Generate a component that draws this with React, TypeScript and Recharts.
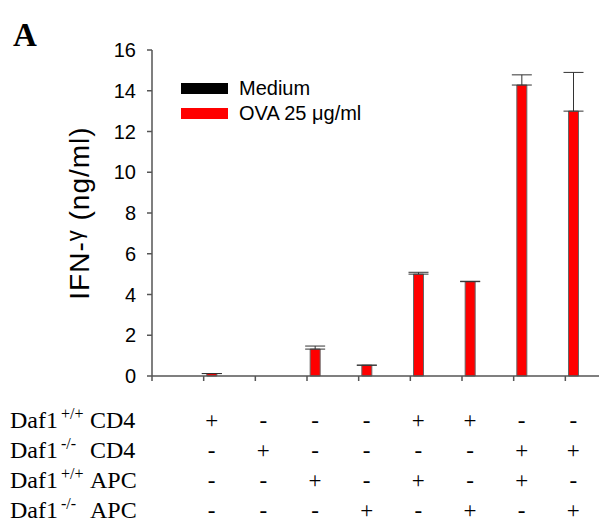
import React from 'react';
import { BarChart, Bar, XAxis, YAxis, ErrorBar, Legend } from 'recharts';

const groups = [1, 2, 3, 4, 5, 6, 7, 8];
const medium = [0, 0, 0, 0, 0, 0, 0, 0];
const ova = [0.12, 0, 1.32, 0.53, 5.0, 4.63, 14.28, 13.0];
const ovaErr = [0, 0, 0.15, 0, 0.09, 0.02, 0.5, 1.9];
const yTicks = [0, 2, 4, 6, 8, 10, 12, 14, 16];
const xTicks = [0, 1, 2, 3, 4, 5, 6, 7, 8];

// genotype table under the x axis
const rowSup = ['+/+', '-/-', '+/+', '-/-'];
const rowCell = ['CD4', 'CD4', 'APC', 'APC'];
const wtCD4 = ['+', '-', '-', '-', '+', '+', '-', '-'];
const koCD4 = ['-', '+', '-', '-', '-', '-', '+', '+'];
const wtAPC = ['-', '-', '+', '-', '+', '-', '+', '-'];
const koAPC = ['-', '-', '-', '+', '-', '+', '-', '+'];
const rows = [wtCD4, koCD4, wtAPC, koAPC];

const data = groups.map((g, i) => ({
  g,
  medium: medium[i],
  ova: ova[i],
  err: [0, ovaErr[i]],
}));

const sans = '"Liberation Sans", Arial, sans-serif';
const serif = '"Liberation Serif", "Times New Roman", serif';
const axisColor = '#555';
const rowGap = 30;

const TableTick = (props: any) => {
  const { x, y, payload } = props;
  const i = groups.indexOf(payload.value);
  if (i < 0) return null;
  return (
    <g>
      {rows.map((r, k) => (
        <text key={k} x={x + 8} y={y + 45 + k * rowGap} textAnchor="middle"
          fontFamily={serif} fontSize={23} fill="#000">
          {r[i]}
        </text>
      ))}
    </g>
  );
};

const RowLabels = (props: any) => {
  const vb = props.viewBox || { y: 368 };
  return (
    <g>
      {rowSup.map((s, k) => {
        const by = vb.y + 52 + k * rowGap;
        return (
          <g key={k}>
            <text x={2} y={by} fontFamily={serif} fontSize={24} fill="#000">Daf1</text>
            <text x={53} y={by - 9} fontFamily={serif} fontSize={16} fill="#000">{s}</text>
            <text x={82} y={by} fontFamily={serif} fontSize={24} fill="#000">{rowCell[k]}</text>
          </g>
        );
      })}
    </g>
  );
};

const YLabel = (props: any) => {
  const vb = props.viewBox || { x: 84, y: 42, height: 326 };
  const cx = vb.x - 3;
  const cy = vb.y + vb.height / 2;
  return (
    <text x={cx} y={cy} transform={`rotate(-90 ${cx} ${cy})`} textAnchor="middle"
      fontFamily={sans} fontSize={28} letterSpacing={1} fill="#000">
      IFN-<tspan fontSize={22} dy={-7}>γ</tspan><tspan dy={7}> (ng/ml)</tspan>
    </text>
  );
};

const LegendBox = (props: any) => (
  <div style={{ fontFamily: sans, fontSize: 20, color: '#000' }}>
    {(props.payload || []).map((p: any) => (
      <div key={p.value} style={{ display: 'flex', alignItems: 'center', height: 25 }}>
        <span style={{ display: 'inline-block', width: 47, height: 11, background: p.color, marginRight: 11 }} />
        <span>{p.value}</span>
      </div>
    ))}
  </div>
);

export default function App() {
  return (
    <div style={{ position: 'relative', width: 599, height: 516, overflow: 'hidden' }}>
      <div style={{ position: 'absolute', left: 5, top: 9, fontFamily: serif, fontWeight: 'bold', fontSize: 33, zIndex: 2 }}>A</div>
      <BarChart width={640} height={516} data={data} barSize={10} barGap={6}
        margin={{ top: 42, right: 31, left: 84, bottom: 0 }}>
        <XAxis xAxisId="top" orientation="top" type="number" domain={[0, 9]} dataKey="g"
          height={0} tick={false} tickLine={false} stroke={axisColor} strokeWidth={1.5} />
        <XAxis type="number" dataKey="g" domain={[0, 9]} ticks={xTicks} interval={0}
          height={148} tickSize={5} stroke={axisColor} strokeWidth={1.5}
          tick={<TableTick />} label={<RowLabels />} />
        <YAxis domain={[0, 16]} ticks={yTicks} interval={0} width={60} tickSize={5} tickMargin={11}
          stroke={axisColor} strokeWidth={1.5}
          tick={{ fontFamily: sans, fontSize: 20, fill: '#000' }} label={<YLabel />} />
        <Legend layout="vertical" align="center" verticalAlign="middle" content={<LegendBox />}
          wrapperStyle={{ left: 173, top: 68, width: 'auto', height: 'auto' }} />
        <Bar dataKey="medium" name="Medium" fill="#000" isAnimationActive={false} />
        <Bar dataKey="ova" name="OVA 25 μg/ml" fill="#ff0000" stroke="#666" strokeWidth={1} isAnimationActive={false}>
          <ErrorBar dataKey="err" width={10} stroke="#333" strokeWidth={1} isAnimationActive={false} />
        </Bar>
      </BarChart>
    </div>
  );
}
